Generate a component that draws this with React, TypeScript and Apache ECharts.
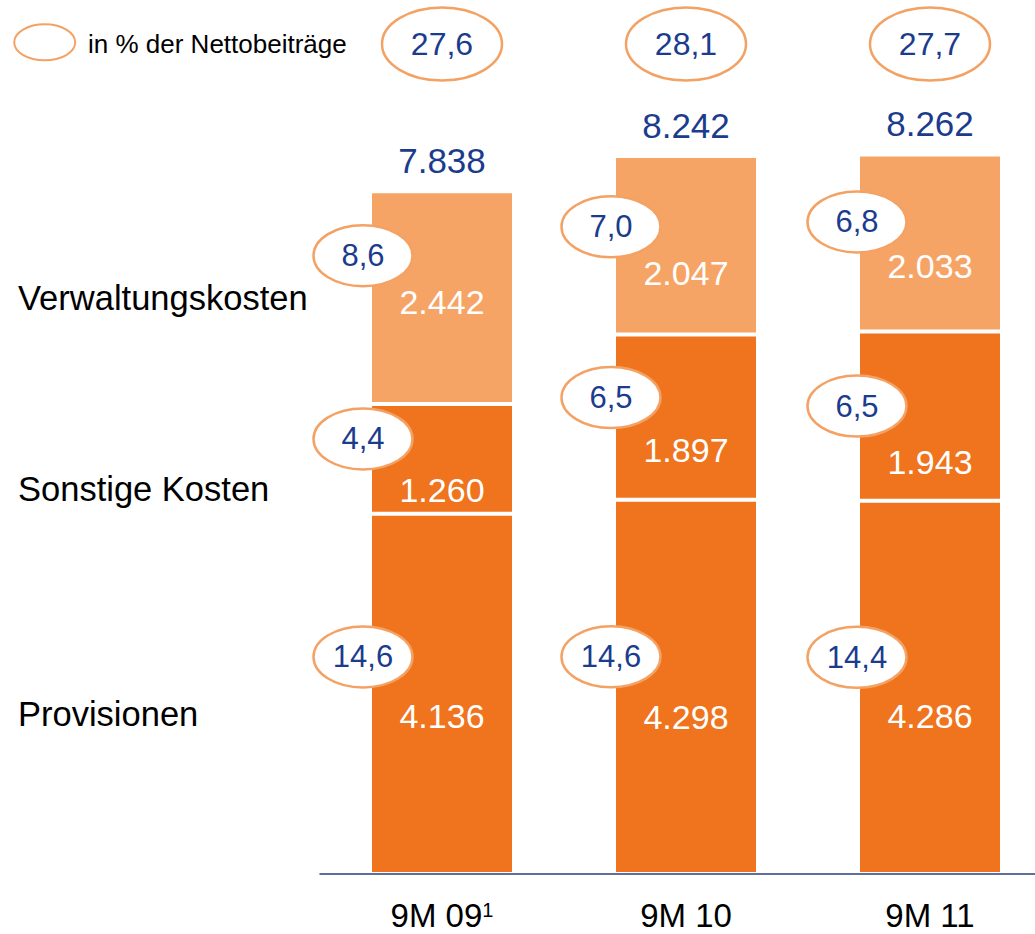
import React, { useEffect, useRef } from "react";
import * as echarts from "echarts";

// ---- data ----
const categories = ["9M 09¹", "9M 10", "9M 11"];
const provisionen = [4136, 4298, 4286];
const sonstigeKosten = [1260, 1897, 1943];
const verwaltungskosten = [2442, 2047, 2033];
const totals = [7838, 8242, 8262];
const pctProvisionen = ["14,6", "14,6", "14,4"];
const pctSonstige = ["4,4", "6,5", "6,5"];
const pctVerwaltung = ["8,6", "7,0", "6,8"];
const pctTotal = ["27,6", "28,1", "27,7"];
const rowLabels = ["Provisionen", "Sonstige Kosten", "Verwaltungskosten"];
const legendLabel = "in % der Nettobeiträge";

// ---- style / layout (pixel offsets from the segment centre) ----
const labelOffsets = [
  [22, 30, 29],
  [31, 32.5, 46],
  [4, 28, 23],
];
const ellipseOffsets = [
  [-37, -30, -30],
  [-20, -19.5, -10],
  [-42, -18.5, -21],
];
const ellipseShiftX = [-79, -75, -73];
const DARK = "#F0731D";
const LIGHT = "#F6A466";
const RING = "#F4A264";
const BLUE = "#1B3C8D";
const FONT = "'Liberation Sans', Arial, Helvetica, sans-serif";

const fmt = (v: number) => {
  const s = String(Math.round(v));
  return s.replace(/\B(?=(\d{3})+(?!\d))/g, ".");
};

const segValues = [provisionen, sonstigeKosten, verwaltungskosten];
const pctValues = [pctProvisionen, pctSonstige, pctVerwaltung];

export default function App() {
  const ref = useRef<HTMLDivElement>(null);
  useEffect(() => {
    if (!ref.current) return;
    const chart = echarts.init(ref.current, undefined, { renderer: "svg" });

    const barSeries = segValues.map((vals, s) => ({
      type: "bar",
      name: rowLabels[s],
      stack: "total",
      barWidth: 144,
      z: 2,
      itemStyle: {
        color: s === 2 ? LIGHT : DARK,
        borderColor: "#ffffff",
        borderWidth: 2,
      },
      label: {
        show: true,
        position: "inside",
        color: "#ffffff",
        fontFamily: FONT,
        fontSize: 34,
        formatter: (p: any) => fmt(p.value),
      },
      data: vals.map((v, i) => ({
        value: v,
        label: { offset: [0, labelOffsets[s][i]] },
      })),
    }));

    const annotation = {
      type: "custom",
      z: 5,
      clip: false,
      silent: true,
      encode: { x: 0, y: 1 },
      data: categories.map((_, i) => [i, totals[i]]),
      renderItem: (params: any, api: any) => {
        const i = api.value(0);
        const cums = [0];
        segValues.forEach((vals) => cums.push(cums[cums.length - 1] + vals[i]));
        const ys = cums.map((v) => api.coord([i, v])[1]);
        const xc = api.coord([i, 0])[0];
        const children: any[] = [];
        for (let s = 0; s < 3; s++) {
          const mid = (ys[s] + ys[s + 1]) / 2;
          const cy = mid + ellipseOffsets[s][i];
          const cx = xc + ellipseShiftX[i];
          children.push({
            type: "ellipse",
            shape: { cx, cy, rx: 49.5, ry: 30.5 },
            style: { fill: "#ffffff", stroke: RING, lineWidth: 2.5 },
          });
          children.push({
            type: "text",
            x: cx,
            y: cy,
            style: {
              text: pctValues[s][i],
              fill: BLUE,
              fontSize: 31,
              fontFamily: FONT,
              align: "center",
              verticalAlign: "middle",
            },
          });
        }
        // total above the bar
        children.push({
          type: "text",
          x: xc,
          y: ys[3] - 31,
          style: {
            text: fmt(totals[i]),
            fill: BLUE,
            fontSize: 35,
            fontFamily: FONT,
            align: "center",
            verticalAlign: "middle",
          },
        });
        // percentage of net contributions at the top
        children.push({
          type: "ellipse",
          shape: { cx: xc, cy: 44, rx: 60, ry: 36.5 },
          style: { fill: "#ffffff", stroke: RING, lineWidth: 2.5 },
        });
        children.push({
          type: "text",
          x: xc,
          y: 44,
          style: {
            text: pctTotal[i],
            fill: BLUE,
            fontSize: 32,
            fontFamily: FONT,
            align: "center",
            verticalAlign: "middle",
          },
        });
        return { type: "group", children };
      },
    };

    const option: any = {
      animation: false,
      backgroundColor: "#ffffff",
      grid: { left: 320, width: 732, top: 3, bottom: 60, outerBoundsMode: "none", containLabel: false },
      xAxis: {
        type: "category",
        data: categories,
        axisLine: { show: true, lineStyle: { color: "#2B3F7C", width: 1.5 } },
        axisTick: { show: false },
        axisLabel: {
          interval: 0,
          hideOverlap: false,
          color: "#000000",
          fontFamily: FONT,
          fontSize: 33,
          lineHeight: 30,
          margin: 26,
          formatter: (v: string) =>
            v.endsWith("¹") ? `{a|${v.slice(0, -1)}}{s|1}` : `{a|${v}}`,
          rich: {
            a: { fontFamily: FONT, fontSize: 33, color: "#000000", lineHeight: 30 },
            s: { fontFamily: FONT, fontSize: 20, color: "#000000", lineHeight: 20, verticalAlign: "top" },
          },
        },
        z: 10,
      },
      yAxis: { type: "value", min: 0, max: 10000, show: false },
      graphic: [
        {
          type: "ellipse",
          shape: { cx: 44.7, cy: 42.3, rx: 30.5, ry: 18 },
          style: { fill: "#ffffff", stroke: RING, lineWidth: 2 },
        },
        {
          type: "text",
          x: 88,
          y: 44,
          style: {
            text: legendLabel,
            fill: "#000000",
            fontSize: 26,
            fontFamily: FONT,
            verticalAlign: "middle",
          },
        },
        {
          type: "text",
          x: 18,
          y: 298,
          style: { text: rowLabels[2], fill: "#000", fontSize: 34.5, fontFamily: FONT, verticalAlign: "middle" },
        },
        {
          type: "text",
          x: 18,
          y: 489,
          style: { text: rowLabels[1], fill: "#000", fontSize: 34.5, fontFamily: FONT, verticalAlign: "middle" },
        },
        {
          type: "text",
          x: 18,
          y: 714,
          style: { text: rowLabels[0], fill: "#000", fontSize: 34.5, fontFamily: FONT, verticalAlign: "middle" },
        },
      ],
      series: [...barSeries, annotation],
    };
    chart.setOption(option);
    return () => chart.dispose();
  }, []);
  return (
    <div
      ref={ref}
      style={{ position: "absolute", left: 0, top: 0, width: 1035, height: 934 }}
    />
  );
}
